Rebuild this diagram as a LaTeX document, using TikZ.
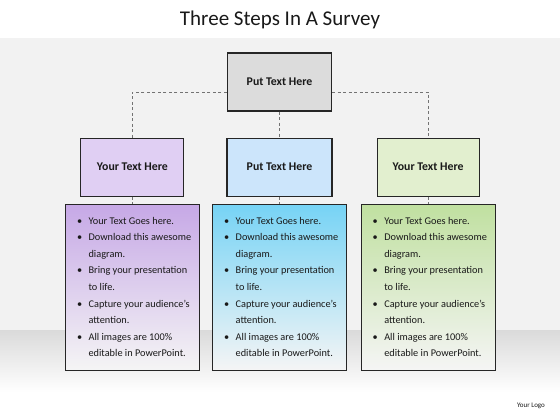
\documentclass[tikz,border=0pt]{standalone}
\usepackage{fontspec}
\setmainfont{Carlito}
\usepackage{array}
\usetikzlibrary{positioning}

\definecolor{headgray}{HTML}{DCDCDC}
\definecolor{lilac}{HTML}{E0CFF3}
\definecolor{skyblue}{HTML}{CCE5FB}
\definecolor{palegreen}{HTML}{E2EFCF}
\definecolor{lilacdeep}{HTML}{C6A8E6}
\definecolor{skydeep}{HTML}{76D3F5}
\definecolor{greendeep}{HTML}{C0E0A0}
\definecolor{backgray}{HTML}{F2F2F2}
\definecolor{floorgray}{HTML}{DADADA}

% bullet list used in all three lower boxes
\newcommand{\surveylist}{%
  \renewcommand{\arraystretch}{1}%
  \begin{tabular}{@{}>{\centering\arraybackslash}p{12pt}@{\hspace{3pt}}l@{}}
  \textbullet & Your Text Goes here.\\
  \textbullet & Download this awesome\\
              & diagram.\\
  \textbullet & Bring your presentation\\
              & to life.\\
  \textbullet & Capture your audience's\\
              & attention.\\
  \textbullet & All images are 100\%\\
              & editable in PowerPoint.
  \end{tabular}}

\begin{document}
\begin{tikzpicture}[
    x=1pt, y=-1pt,
    every node/.style={align=center, text=black!90},
    headbox/.style={rectangle, draw=black!85, line width=1.1pt, minimum width=104pt, minimum height=58pt, font=\fontsize{11.8}{13}\selectfont\bfseries},
    infobox/.style={rectangle, draw=black!85, line width=1.1pt, minimum width=134pt, minimum height=166pt, bottom color=white!96!black, font=\fontsize{10.3}{16.6}\selectfont},
    link/.style={draw=black!55, dashed, dash pattern=on 3pt off 2.5pt, line width=0.6pt}
]
\useasboundingbox (0,0) rectangle (560,420);

% Backdrop
\fill[white] (0,0) rectangle (560,420);
\fill[backgray] (0,38) rectangle (560,330);
\shade[top color=floorgray, bottom color=white] (0,330) rectangle (560,392);

% Title
\node (title) at (280,20) {\fontsize{21}{24}\selectfont Three Steps In A Survey};

% Top level
\node (top) [headbox, fill=headgray] at (279.5,82) {Put Text Here};

% Three steps
\node (stepmid) [headbox, fill=skyblue, minimum width=105pt, below=26pt of top] {Put Text Here};
\node (stepleft) [headbox, fill=lilac, minimum width=103pt, left=42pt of stepmid] {Your Text Here};
\node (stepright) [headbox, fill=palegreen, minimum width=102pt, right=44pt of stepmid] {Your Text Here};

% Details
\node (infoleft) [infobox, top color=lilacdeep, below=7pt of stepleft] {\surveylist};
\node (infomid) [infobox, top color=skydeep, below=7pt of stepmid] {\surveylist};
\node (inforight) [infobox, top color=greendeep, below=7pt of stepright] {\surveylist};

% Connectors
\draw [link] ([yshift=-10pt]top.west) -| (stepleft.north);
\draw [link] ([yshift=-10pt]top.east) -| (stepright.north);
\draw [link] (top) -- (stepmid);
\draw [link] (stepleft) -- (infoleft);
\draw [link] (stepmid) -- (infomid);
\draw [link] (stepright) -- (inforight);

% Logo
\node (logo) at (531,406) {\fontsize{7}{8}\selectfont Your Logo};

\end{tikzpicture}
\end{document}
